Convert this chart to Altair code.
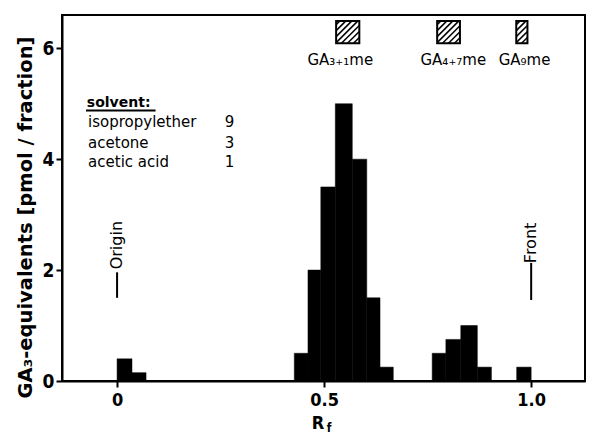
import altair as alt
import pandas as pd
import numpy as np

# ---- data ----
bar_start = [0.0, 0.036, 0.428, 0.461, 0.492, 0.527, 0.568, 0.603, 0.635, 0.761, 0.794, 0.830, 0.870, 0.965]
bar_end = [0.036, 0.070, 0.461, 0.492, 0.527, 0.568, 0.603, 0.635, 0.667, 0.794, 0.830, 0.870, 0.904, 1.0]
bar_value = [0.4, 0.15, 0.5, 2.0, 3.5, 5.0, 4.0, 1.5, 0.25, 0.5, 0.75, 1.0, 0.25, 0.25]

std_names = ["GA₃₊₁me", "GA₄₊₇me", "GA₉me"]
std_x0 = [0.529, 0.773, 0.964]
std_x1 = [0.585, 0.828, 0.991]
std_label_x = [0.539, 0.812, 0.984]
std_y0 = 6.09
std_y1 = 6.49
std_label_y = 5.78

marker_names = ["Origin", "Front"]
marker_x = [0.0, 1.0]
marker_line_lo = [1.50, 1.46]
marker_line_hi = [1.96, 2.13]
marker_text_y = [2.45, 2.49]

solvent_names = ["isopropylether", "acetone", "acetic acid"]
solvent_parts = ["9", "3", "1"]
solvent_y = [4.67, 4.29, 3.95]

X_DOMAIN = [-0.133, 1.130]
Y_DOMAIN = [0, 6.6]
W, H = 523, 366
FONT = "DejaVu Sans"
AXFONT = "DejaVu Sans Condensed"

bars = pd.DataFrame({"start": bar_start, "end": bar_end, "value": bar_value})
stds = pd.DataFrame({"name": std_names, "x0": std_x0, "x1": std_x1, "lx": std_label_x,
                     "y0": std_y0, "y1": std_y1, "ly": std_label_y})
markers = pd.DataFrame({"name": marker_names, "x": marker_x, "lo": marker_line_lo,
                        "hi": marker_line_hi, "ty": marker_text_y})
solv = pd.DataFrame({"name": solvent_names, "part": solvent_parts, "y": solvent_y})

# hatch lines inside the standard boxes (derived from box geometry)
pxx = W / (X_DOMAIN[1] - X_DOMAIN[0])
pxy = H / (Y_DOMAIN[1] - Y_DOMAIN[0])
rows = []
for x0, x1 in zip(std_x0, std_x1):
    bw = (x1 - x0) * pxx
    bh = (std_y1 - std_y0) * pxy
    c = -bh + 3.5
    while c < bw - 2:
        if c >= 0:
            u0, v0 = c, 0.0
        else:
            u0, v0 = 0.0, -c
        if c + bh <= bw:
            u1, v1 = c + bh, bh
        else:
            u1, v1 = bw, bw - c
        rows.append({"hx": x0 + u0 / pxx, "hy": std_y0 + v0 / pxy,
                     "hx2": x0 + u1 / pxx, "hy2": std_y0 + v1 / pxy})
        c += 6.0
hatch = pd.DataFrame(rows)

xs = alt.Scale(domain=X_DOMAIN, nice=False, zero=False)
ys = alt.Scale(domain=Y_DOMAIN, nice=False)

base_x_axis = alt.Axis(values=[0, 0.5, 1.0], labelExpr="datum.value == 0 ? '0' : format(datum.value, '.1f')",
                       title=None, grid=False, tickSize=6, tickWidth=2, domainWidth=2, domainColor="black",
                       tickColor="black", labelFont=AXFONT, labelFontSize=18, labelFontWeight="bold",
                       labelColor="black", labelPadding=4)
base_y_axis = alt.Axis(values=[0, 2, 4, 6], format="d", title="GA₃-equivalents [pmol / fraction]", grid=False,
                       tickSize=6, tickWidth=2, domainWidth=2, domainColor="black", tickColor="black",
                       labelFont=AXFONT, labelFontSize=19, labelFontWeight="bold", labelColor="black",
                       labelPadding=2, titleFont=FONT, titleFontSize=19.5, titleFontWeight="bold",
                       titleColor="black", titleAngle=270, titleAlign="center", titleBaseline="middle",
                       titleX=-37, titleY=202)

bar_layer = alt.Chart(bars).mark_bar(color="black", stroke="black", strokeWidth=0.5).encode(
    x=alt.X("start:Q", scale=xs, axis=base_x_axis),
    x2="end:Q",
    y=alt.Y("value:Q", scale=ys, axis=base_y_axis),
    y2=alt.datum(0),
)

box_layer = alt.Chart(stds).mark_rect(fill="white", stroke="black", strokeWidth=2).encode(
    x=alt.X("x0:Q", scale=xs), x2="x1:Q", y=alt.Y("y0:Q", scale=ys), y2="y1:Q")

hatch_layer = alt.Chart(hatch).mark_rule(color="black", strokeWidth=1.5).encode(
    x=alt.X("hx:Q", scale=xs), x2="hx2:Q", y=alt.Y("hy:Q", scale=ys), y2="hy2:Q")

std_text = alt.Chart(stds).mark_text(font=FONT, fontSize=15, align="center", baseline="middle",
                                     color="black").encode(
    x=alt.X("lx:Q", scale=xs), y=alt.Y("ly:Q", scale=ys), text="name:N")

marker_rule = alt.Chart(markers).mark_rule(color="black", strokeWidth=2).encode(
    x=alt.X("x:Q", scale=xs), y=alt.Y("lo:Q", scale=ys), y2="hi:Q")
marker_text = alt.Chart(markers).mark_text(font=FONT, fontSize=16, angle=270, align="center",
                                           baseline="middle", color="black").encode(
    x=alt.X("x:Q", scale=xs), y=alt.Y("ty:Q", scale=ys), text="name:N")

solv_head = alt.Chart(pd.DataFrame({"t": ["solvent:"], "x": [-0.073], "y": [5.02]})).mark_text(
    font=FONT, fontSize=14, fontWeight="bold", align="left", baseline="middle", color="black").encode(
    x=alt.X("x:Q", scale=xs), y=alt.Y("y:Q", scale=ys), text="t:N")
solv_line = alt.Chart(pd.DataFrame({"x": [-0.075], "x2": [0.093], "y": [4.88]})).mark_rule(
    color="black", strokeWidth=2).encode(x=alt.X("x:Q", scale=xs), x2="x2:Q", y=alt.Y("y:Q", scale=ys))
solv_names = alt.Chart(solv).mark_text(font=FONT, fontSize=15, align="left", baseline="middle",
                                       color="black").encode(
    x=alt.datum(-0.070, scale=xs), y=alt.Y("y:Q", scale=ys), text="name:N")
solv_parts = alt.Chart(solv).mark_text(font=FONT, fontSize=15, align="right", baseline="middle",
                                       color="black").encode(
    x=alt.datum(0.283, scale=xs), y=alt.Y("y:Q", scale=ys), text="part:N")

rf_R = alt.Chart(pd.DataFrame({"t": ["R"]})).mark_text(font=AXFONT, fontSize=18, fontWeight="bold",
                                                        align="center", baseline="middle", color="black").encode(
    x=alt.value(256), y=alt.value(409), text="t:N")
rf_f = alt.Chart(pd.DataFrame({"t": ["f"]})).mark_text(font=AXFONT, fontSize=12, fontWeight="bold",
                                                        align="center", baseline="middle", color="black").encode(
    x=alt.value(267), y=alt.value(413), text="t:N")

chart = alt.layer(
    bar_layer, box_layer, hatch_layer, std_text, marker_rule, marker_text,
    solv_head, solv_line, solv_names, solv_parts, rf_R, rf_f
).properties(
    width=W, height=H,
    autosize=alt.AutoSizeParams(type="none"),
    padding={"left": 62, "top": 15, "right": 4, "bottom": 53},
    background="white",
).configure_view(stroke="black", strokeWidth=2)

chart.save("out.html", embed_options={"renderer": "svg", "actions": False})
